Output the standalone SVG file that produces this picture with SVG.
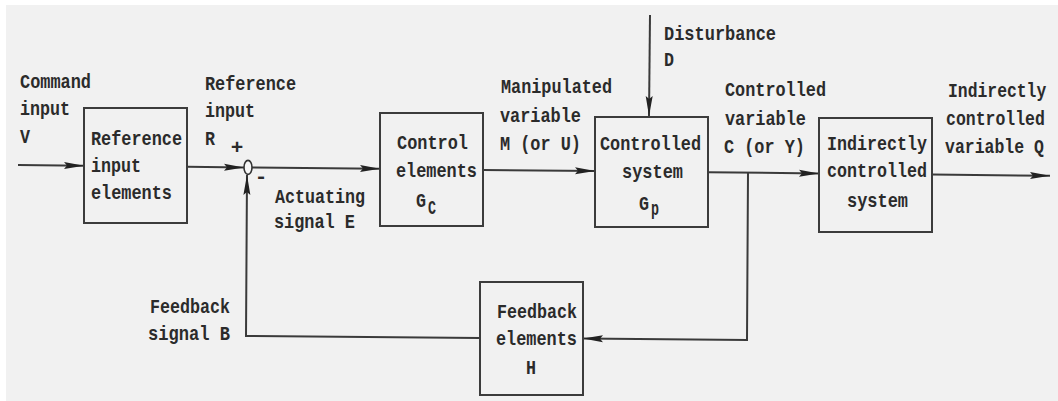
<svg xmlns="http://www.w3.org/2000/svg" width="1058" height="401" viewBox="0 0 1058 401">
<defs>
<style>
.bg{fill:#f1f1f1}
.box{fill:none;stroke:#3c3c3c;stroke-width:2}
.ln{fill:none;stroke:#3a3a3a;stroke-width:2}
.t{font-family:"Liberation Mono","Courier New",monospace;font-size:21px;font-weight:bold;fill:#2b2b2b}
</style>
<marker id="ah" markerUnits="userSpaceOnUse" markerWidth="22" markerHeight="9" refX="20" refY="4" orient="auto">
<path d="M0,0.5 L20,4 L0,7.5 L3,4 z" fill="#222"/>
</marker>
</defs>
<rect x="0" y="0" width="1058" height="401" fill="#ffffff"/>
<rect class="bg" x="6" y="5" width="1052" height="396"/>

<g id="connectors">
<path class="ln" d="M18,165 L84,165.7" marker-end="url(#ah)"/>
<path class="ln" d="M187,166.8 L244,167.4" marker-end="url(#ah)"/>
<path class="ln" d="M252,167.4 L380,168.8" marker-end="url(#ah)"/>
<path class="ln" d="M483,169.9 L595,171" marker-end="url(#ah)"/>
<path class="ln" d="M650,15 L649,116" marker-end="url(#ah)"/>
<path class="ln" d="M708,172.2 L819,173.4" marker-end="url(#ah)"/>
<path class="ln" d="M932,174.6 L1050,175.8" marker-end="url(#ah)"/>
<path class="ln" d="M748,172.8 L747,340 L583,338.5" marker-end="url(#ah)"/>
<path class="ln" d="M480,338 L246,336 L247,175" marker-end="url(#ah)"/>
</g>

<g id="sum">
<ellipse cx="248" cy="167.4" rx="4" ry="7" fill="#f7f7f7" stroke="#333" stroke-width="1.6"/>
<text class="t" x="237" y="154" font-size="15" text-anchor="middle">+</text>
<text class="t" x="261" y="183" font-size="15" text-anchor="middle">-</text>
</g>

<g id="command-input">
<text class="t" x="20" y="88" textLength="71" lengthAdjust="spacingAndGlyphs">Command</text>
<text class="t" x="20" y="115" textLength="50" lengthAdjust="spacingAndGlyphs">input</text>
<text class="t" x="20" y="143" textLength="10" lengthAdjust="spacingAndGlyphs">V</text>
</g>

<g id="reference-input-elements">
<rect class="box" x="84" y="108" width="103" height="115"/>
<text class="t" x="91" y="145" textLength="91" lengthAdjust="spacingAndGlyphs">Reference</text>
<text class="t" x="91" y="172" textLength="50" lengthAdjust="spacingAndGlyphs">input</text>
<text class="t" x="91" y="199" textLength="81" lengthAdjust="spacingAndGlyphs">elements</text>
</g>

<g id="reference-input-label">
<text class="t" x="205" y="90" textLength="91" lengthAdjust="spacingAndGlyphs">Reference</text>
<text class="t" x="205" y="117" textLength="50" lengthAdjust="spacingAndGlyphs">input</text>
<text class="t" x="205" y="145" textLength="10" lengthAdjust="spacingAndGlyphs">R</text>
</g>

<g id="actuating-signal">
<text class="t" x="275" y="203" textLength="90" lengthAdjust="spacingAndGlyphs">Actuating</text>
<text class="t" x="274" y="228" textLength="81" lengthAdjust="spacingAndGlyphs">signal E</text>
</g>

<g id="control-elements">
<rect class="box" x="380" y="113" width="103" height="113"/>
<text class="t" x="397" y="149" textLength="71" lengthAdjust="spacingAndGlyphs">Control</text>
<text class="t" x="396" y="177" textLength="81" lengthAdjust="spacingAndGlyphs">elements</text>
<text class="t" x="416" y="207" textLength="10" lengthAdjust="spacingAndGlyphs">G</text>
<text class="t" x="428" y="214" font-size="16" textLength="8" lengthAdjust="spacingAndGlyphs">C</text>
</g>

<g id="manipulated-variable">
<text class="t" x="501" y="93" textLength="111" lengthAdjust="spacingAndGlyphs">Manipulated</text>
<text class="t" x="500" y="122" textLength="81" lengthAdjust="spacingAndGlyphs">variable</text>
<text class="t" x="500" y="150" textLength="81" lengthAdjust="spacingAndGlyphs">M (or U)</text>
</g>

<g id="disturbance">
<text class="t" x="664" y="40" textLength="112" lengthAdjust="spacingAndGlyphs">Disturbance</text>
<text class="t" x="664" y="66" textLength="10" lengthAdjust="spacingAndGlyphs">D</text>
</g>

<g id="controlled-system">
<rect class="box" x="595" y="117" width="113" height="110"/>
<text class="t" x="600" y="150" textLength="101" lengthAdjust="spacingAndGlyphs">Controlled</text>
<text class="t" x="622" y="178" textLength="61" lengthAdjust="spacingAndGlyphs">system</text>
<text class="t" x="639" y="210" textLength="10" lengthAdjust="spacingAndGlyphs">G</text>
<text class="t" x="651" y="215" font-size="16" textLength="8" lengthAdjust="spacingAndGlyphs">p</text>
</g>

<g id="controlled-variable">
<text class="t" x="725" y="96" textLength="101" lengthAdjust="spacingAndGlyphs">Controlled</text>
<text class="t" x="725" y="125" textLength="81" lengthAdjust="spacingAndGlyphs">variable</text>
<text class="t" x="724" y="153" textLength="81" lengthAdjust="spacingAndGlyphs">C (or Y)</text>
</g>

<g id="indirectly-controlled-system">
<rect class="box" x="819" y="118" width="113" height="114"/>
<text class="t" x="827" y="150" textLength="100" lengthAdjust="spacingAndGlyphs">Indirectly</text>
<text class="t" x="827" y="177" textLength="100" lengthAdjust="spacingAndGlyphs">controlled</text>
<text class="t" x="847" y="207" textLength="61" lengthAdjust="spacingAndGlyphs">system</text>
</g>

<g id="indirectly-controlled-variable">
<text class="t" transform="translate(948,97) scale(0.78,1)">Indirectly</text>
<text class="t" transform="translate(946,125) scale(0.785,1)">controlled</text>
<text class="t" transform="translate(945,153) scale(0.785,1)">variable Q</text>
</g>

<g id="feedback-elements">
<rect class="box" x="480" y="282" width="103" height="113"/>
<text class="t" x="497" y="318" textLength="80" lengthAdjust="spacingAndGlyphs">Feedback</text>
<text class="t" x="496" y="345" textLength="81" lengthAdjust="spacingAndGlyphs">elements</text>
<text class="t" x="526" y="374" textLength="10" lengthAdjust="spacingAndGlyphs">H</text>
</g>

<g id="feedback-signal">
<text class="t" x="150" y="313" textLength="80" lengthAdjust="spacingAndGlyphs">Feedback</text>
<text class="t" x="148" y="340" textLength="82" lengthAdjust="spacingAndGlyphs">signal B</text>
</g>
</svg>
